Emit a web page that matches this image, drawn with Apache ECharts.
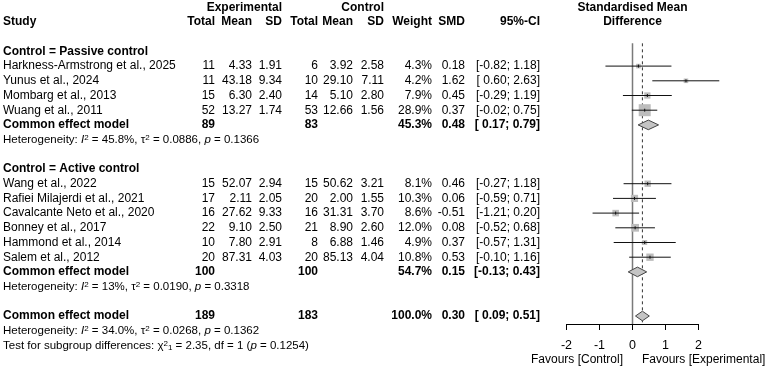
<!DOCTYPE html>
<html>
<head>
<meta charset="utf-8">
<script src="https://cdn.jsdelivr.net/npm/echarts@6/dist/echarts.min.js"></script>
<style>
  html, body { margin: 0; padding: 0; background: #fff; }
  #main { width: 767px; height: 370px; }
</style>
</head>
<body>
<div id="main"></div>
<script>
// study data
const studies = ['Harkness-Armstrong et al., 2025', 'Yunus et al., 2024', 'Mombarg et al., 2013', 'Wuang et al., 2011',
  'Wang et al., 2022', 'Rafiei Milajerdi et al., 2021', 'Cavalcante Neto et al., 2020', 'Bonney et al., 2017',
  'Hammond et al., 2014', 'Salem et al., 2012'];
const studyGroup = [0, 0, 0, 0, 1, 1, 1, 1, 1, 1];
const expTotal = [11, 11, 15, 52, 15, 17, 16, 22, 10, 20];
const expMean = [4.33, 43.18, 6.30, 13.27, 52.07, 2.11, 27.62, 9.10, 7.80, 87.31];
const expSD = [1.91, 9.34, 2.40, 1.74, 2.94, 2.05, 9.33, 2.50, 2.91, 4.03];
const ctlTotal = [6, 10, 14, 53, 15, 20, 16, 21, 8, 20];
const ctlMean = [3.92, 29.10, 5.10, 12.66, 50.62, 2.00, 31.31, 8.90, 6.88, 85.13];
const ctlSD = [2.58, 7.11, 2.80, 1.56, 3.21, 1.55, 3.70, 2.60, 1.46, 4.04];
const weight = [4.3, 4.2, 7.9, 28.9, 8.1, 10.3, 8.6, 12.0, 4.9, 10.8];
const smd = [0.18, 1.62, 0.45, 0.37, 0.46, 0.06, -0.51, 0.08, 0.37, 0.53];
const ciLow = [-0.82, 0.60, -0.29, -0.02, -0.27, -0.59, -1.21, -0.52, -0.57, -0.10];
const ciHigh = [1.18, 2.63, 1.19, 0.75, 1.18, 0.71, 0.20, 0.68, 1.31, 1.16];

// subgroup pooled results
const groupNames = ['Control = Passive control', 'Control = Active control'];
const groupExpN = [89, 100];
const groupCtlN = [83, 100];
const groupWeight = [45.3, 54.7];
const groupSmd = [0.48, 0.15];
const groupLow = [0.17, -0.13];
const groupHigh = [0.79, 0.43];
const groupI2 = ['45.8%', '13%'];
const groupTau2 = ['0.0886', '0.0190'];
const groupP = ['0.1366', '0.3318'];

// overall
const overallExpN = 189, overallCtlN = 183, overallWeight = 100.0;
const overallSmd = 0.30, overallLow = 0.09, overallHigh = 0.51;
const overallI2 = '34.0%', overallTau2 = '0.0268', overallP = '0.1362';
const subgroupChi2 = '2.35', subgroupDf = '1', subgroupP = '0.1254';

const xTicks = [-2, -1, 0, 1, 2];

// layout
const FONT = 'Liberation Sans, Arial, sans-serif';
const ROW_H = 14.7, ROW0_Y = 7.3, AXIS_Y = 324;
const colX = [215, 252, 282, 318, 353, 384, 432, 465, 540];
const rowMin = -ROW0_Y / ROW_H;
const rowMax = (AXIS_Y - ROW0_Y) / ROW_H;
const TXT = 12, HET = 11.5;

const f2 = v => v.toFixed(2);
const ci = (l, h) => '[' + (l < 0 ? '' : ' ') + f2(l) + '; ' + f2(h) + ']';
const het = (i2, t2, p) => 'Heterogeneity: {i|I}{sup|2} = ' + i2 + ', τ{sup|2} = ' + t2 + ', {i|p} = ' + p;

const texts = [];
const addText = (x, row, text, align, bold, size) =>
  texts.push({ x, row, text, align: align || 'right', bold: !!bold, size: size || TXT });

addText(colX[2], 0, 'Experimental', 'right', true);
addText(colX[5], 0, 'Control', 'right', true);
addText(632.5, 0, 'Standardised Mean', 'center', true);
addText(632.5, 1, 'Difference', 'center', true);
addText(3, 1, 'Study', 'left', true);
['Total', 'Mean', 'SD', 'Total', 'Mean', 'SD', 'Weight', 'SMD', '95%-CI'].forEach((h, i) => addText(colX[i], 1, h, 'right', true));

const studyRows = [], pooledRows = [];
let r = 3;
groupNames.forEach((g, gi) => {
  addText(3, r, g, 'left', true);
  r++;
  studies.forEach((s, i) => {
    if (studyGroup[i] !== gi) return;
    addText(3, r, s, 'left');
    [expTotal[i], f2(expMean[i]), f2(expSD[i]), ctlTotal[i], f2(ctlMean[i]), f2(ctlSD[i]),
      weight[i].toFixed(1) + '%', f2(smd[i]), ci(ciLow[i], ciHigh[i])]
      .forEach((v, k) => addText(colX[k], r, String(v)));
    studyRows.push([smd[i], r, ciLow[i], ciHigh[i], weight[i]]);
    r++;
  });
  addText(3, r, 'Common effect model', 'left', true);
  addText(colX[0], r, String(groupExpN[gi]), 'right', true);
  addText(colX[3], r, String(groupCtlN[gi]), 'right', true);
  addText(colX[6], r, groupWeight[gi].toFixed(1) + '%', 'right', true);
  addText(colX[7], r, f2(groupSmd[gi]), 'right', true);
  addText(colX[8], r, ci(groupLow[gi], groupHigh[gi]), 'right', true);
  pooledRows.push([groupSmd[gi], r, groupLow[gi], groupHigh[gi]]);
  addText(3, r + 1, het(groupI2[gi], groupTau2[gi], groupP[gi]), 'left', false, HET);
  r += 3;
});
addText(3, r, 'Common effect model', 'left', true);
addText(colX[0], r, String(overallExpN), 'right', true);
addText(colX[3], r, String(overallCtlN), 'right', true);
addText(colX[6], r, overallWeight.toFixed(1) + '%', 'right', true);
addText(colX[7], r, f2(overallSmd), 'right', true);
addText(colX[8], r, ci(overallLow, overallHigh), 'right', true);
pooledRows.push([overallSmd, r, overallLow, overallHigh]);
addText(3, r + 1, het(overallI2, overallTau2, overallP), 'left', false, HET);
addText(3, r + 2, 'Test for subgroup differences: χ{sup|2}{sub|1} = ' + subgroupChi2 + ', df = ' + subgroupDf + ' ({i|p} = ' + subgroupP + ')', 'left', false, HET);
addText(623, 24.0, 'Favours [Control]', 'right');
addText(642, 24.0, 'Favours [Experimental]', 'left');

const refLines = [[0, 2.45, rowMax, 0], [overallSmd, 2.45, rowMax, 1]];

const chart = echarts.init(document.getElementById('main'), null, { renderer: 'canvas' });

const richFor = size => ({
  i: { fontSize: size, fontStyle: 'italic', fontFamily: FONT, fill: '#000' },
  sup: { fontSize: 8, verticalAlign: 'top', fontFamily: FONT, fill: '#000' },
  sub: { fontSize: 8, verticalAlign: 'bottom', fontFamily: FONT, fill: '#000' }
});

chart.setOption({
  animation: false,
  grid: [
    { left: 0, top: 0, width: 767, height: AXIS_Y },
    { left: 566.5, top: 0, width: 132, height: AXIS_Y }
  ],
  xAxis: [
    { gridIndex: 0, type: 'value', min: 0, max: 767, show: false },
    {
      gridIndex: 1, type: 'value', min: xTicks[0], max: xTicks[xTicks.length - 1], interval: 1,
      axisLine: { onZero: false, lineStyle: { color: '#000', width: 1 } },
      axisTick: { length: 6, lineStyle: { color: '#000' } },
      axisLabel: { color: '#000', fontSize: 12.5, fontFamily: FONT, margin: 15 },
      splitLine: { show: false }
    }
  ],
  yAxis: [
    { gridIndex: 0, type: 'value', min: rowMin, max: rowMax, inverse: true, show: false },
    { gridIndex: 1, type: 'value', min: rowMin, max: rowMax, inverse: true, show: false }
  ],
  series: [
    {
      type: 'custom', name: 'refLines', xAxisIndex: 1, yAxisIndex: 1, data: refLines, z: 1,
      renderItem: (params, api) => {
        const a = api.coord([api.value(0), api.value(1)]);
        const b = api.coord([api.value(0), api.value(2)]);
        const dashed = api.value(3) === 1;
        return {
          type: 'line', shape: { x1: a[0], y1: a[1], x2: b[0], y2: b[1] },
          style: dashed ? { stroke: '#333', lineWidth: 1, lineDash: [3, 3] } : { stroke: '#7a7a7a', lineWidth: 1.5 }
        };
      }
    },
    {
      type: 'custom', name: 'studies', xAxisIndex: 1, yAxisIndex: 1, data: studyRows, z: 3, clip: false,
      renderItem: (params, api) => {
        const c = api.coord([api.value(0), api.value(1)]);
        const lo = api.coord([api.value(2), api.value(1)]);
        const hi = api.coord([api.value(3), api.value(1)]);
        const side = 12 * Math.sqrt(api.value(4) / 28.9);
        return {
          type: 'group', children: [
            { type: 'rect', shape: { x: c[0] - side / 2, y: c[1] - side / 2, width: side, height: side }, style: { fill: '#bdbdbd' } },
            { type: 'line', shape: { x1: lo[0], y1: c[1], x2: hi[0], y2: c[1] }, style: { stroke: '#111', lineWidth: 1 } },
            { type: 'line', shape: { x1: c[0], y1: c[1] - 1.5, x2: c[0], y2: c[1] + 1.5 }, style: { stroke: '#111', lineWidth: 1 } }
          ]
        };
      }
    },
    {
      type: 'custom', name: 'pooled', xAxisIndex: 1, yAxisIndex: 1, data: pooledRows, z: 4, clip: false,
      renderItem: (params, api) => {
        const c = api.coord([api.value(0), api.value(1)]);
        const lo = api.coord([api.value(2), api.value(1)]);
        const hi = api.coord([api.value(3), api.value(1)]);
        const h = 4.8;
        return {
          type: 'polygon',
          shape: { points: [[lo[0], c[1]], [c[0], c[1] - h], [hi[0], c[1]], [c[0], c[1] + h]] },
          style: { fill: '#c4c4c4', stroke: '#444', lineWidth: 1 }
        };
      }
    },
    {
      type: 'custom', name: 'table', xAxisIndex: 0, yAxisIndex: 0, data: texts.map(t => [t.x, t.row]), z: 5, clip: false,
      renderItem: (params, api) => {
        const t = texts[params.dataIndex];
        const p = api.coord([api.value(0), api.value(1)]);
        return {
          type: 'text',
          style: {
            text: t.text, x: p[0], y: p[1], align: t.align, verticalAlign: 'middle',
            fontSize: t.size, fontWeight: t.bold ? 'bold' : 'normal', fontFamily: FONT, fill: '#000',
            rich: richFor(t.size)
          }
        };
      }
    }
  ]
});
</script>
</body>
</html>
